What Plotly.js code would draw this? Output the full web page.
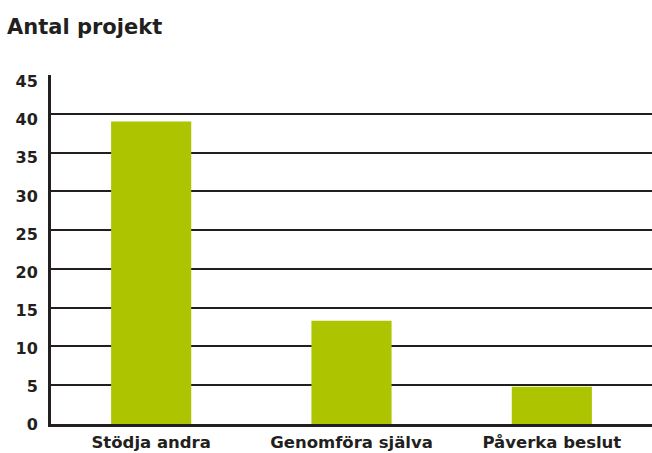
<!DOCTYPE html>
<html>
<head>
<meta charset="utf-8">
<script src="https://cdn.plot.ly/plotly-3.0.1.min.js"></script>
<style>html,body{margin:0;padding:0;background:#fff;}#chart{width:652px;height:453px;}</style>
</head>
<body>
<div id="chart"></div>
<script>
const categories = ["Stödja andra", "Genomföra själva", "Påverka beslut"];
const values = [39, 13.3, 4.8];
const yTicks = [0, 5, 10, 15, 20, 25, 30, 35, 40, 45];

const dark = "#231f20";
const font = "'DejaVu Sans', sans-serif";

Plotly.newPlot("chart", [{
  type: "bar",
  x: categories,
  y: values,
  marker: {color: "#adc500"},
  hoverinfo: "none"
}, {
  type: "scatter", mode: "markers",
  x: categories, y: [null, null, null],
  yaxis: "y2", hoverinfo: "none", showlegend: false
}], {
  width: 652, height: 453,
  margin: {l: 51, r: 0, t: 75, b: 29},
  paper_bgcolor: "#fff", plot_bgcolor: "#fff",
  bargap: 0.6,
  showlegend: false,
  title: {
    text: "Antal projekt",
    font: {family: font, size: 21, color: dark, weight: 700},
    xref: "container", yref: "container",
    x: 7/652, xanchor: "left",
    y: 1 - 27/453, yanchor: "middle"
  },
  xaxis: {
    showline: true, linecolor: dark, linewidth: 3,
    showgrid: false, zeroline: false,
    ticks: "outside", ticklen: 1, tickcolor: "rgba(0,0,0,0)",
    tickfont: {family: font, size: 16.5, color: dark, weight: 700}
  },
  yaxis: {
    range: [0, 45],
    tickvals: yTicks,
    showticklabels: false,
    showline: true, linecolor: dark, linewidth: 3,
    showgrid: true, gridcolor: dark, gridwidth: 2,
    zeroline: false,
    ticks: ""
  },
  yaxis2: {
    overlaying: "y", side: "left",
    range: [0, 45.9],
    tickvals: yTicks,
    ticktext: yTicks.map(String),
    showgrid: false, zeroline: false, showline: false,
    ticks: "outside", ticklen: 9, tickcolor: "rgba(0,0,0,0)",
    tickfont: {family: font, size: 16, color: dark, weight: 700}
  }
}, {staticPlot: true});
</script>
</body>
</html>
